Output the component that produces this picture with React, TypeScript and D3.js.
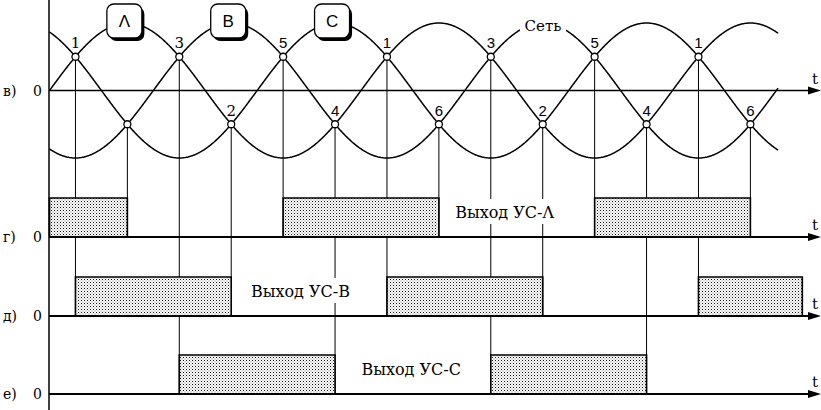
import React from "react";
import * as d3 from "d3";

// фазы сети: сдвиг в градусах и угол, где стоит метка фазы
const phaseNames = ["Λ", "B", "C"];
const phaseShifts = [0, -120, 120];
const phasePeaks = [90, 210, 330];

// точки пересечения фаз (градусы) и их номера
const upperNodes = [30, 150, 270, 390, 510, 630, 750];
const upperLabels = ["1", "3", "5", "1", "3", "5", "1"];
const lowerNodes = [90, 210, 330, 450, 570, 690, 810];
const lowerLabels = ["", "2", "4", "6", "2", "4", "6"];

// выходы УС: интервалы включения (градусы)
const channelLetters = ["г)", "д)", "е)"];
const outputLabels = ["Выход УС-Λ", "Выход УС-В", "Выход УС-С"];
const outputLabelAt = [526, 290, 418];
const pulsesA = [[0, 90], [270, 450], [630, 810]];
const pulsesB = [[30, 210], [390, 570], [750, 870]];
const pulsesC = [[150, 330], [510, 690]];
const channelPulses = [pulsesA, pulsesB, pulsesC];

const W = 821;
const H = 410;
const serif = '"DejaVu Serif", serif';
const sans = '"Liberation Sans", Arial, "DejaVu Sans", sans-serif';

export default function App() {
  const x = d3.scaleLinear().domain([0, 720]).range([49.5, 49.5 + 720 * 0.8653]);
  const y = d3.scaleLinear().domain([-1, 1]).range([158, 23]);
  const zeroY = y(0);
  const chZero = [237, 316, 394];
  const chHigh = [198, 277, 355];

  const thetas = d3.range(0, 843, 1);
  const line = d3.line<number>().x((t) => x(t));

  const sinPath = (shift: number) =>
    line.y((t) => y(Math.sin(((t + shift) * Math.PI) / 180)))(thetas) || "";

  // вертикаль от узла опускается до канала, у которого в этот момент фронт
  const dropTo = (a: number) => {
    let bottom = 0;
    channelPulses.forEach((ps, i) => {
      ps.forEach(([s, e]) => {
        if (s === a || e === a) bottom = Math.max(bottom, chZero[i]);
      });
    });
    return bottom;
  };

  const arrow = (yy: number) => (
    <polygon points={`808,${yy - 4} 821,${yy} 808,${yy + 4}`} fill="#000" />
  );

  const nodeFont = (a: number) => (x(a) < 260 ? serif : sans);
  const txt = (family: string, size: number) => ({ fontFamily: family, fontSize: size });

  return (
    <svg width={W} height={H} style={{ position: "absolute", left: 0, top: 0, background: "#fff" }}>
      <defs>
        <pattern id="dots" width="3" height="3" patternUnits="userSpaceOnUse">
          <rect width="3" height="3" fill="#fff" />
          <rect x="0" y="0" width="1" height="1" fill="#111" />
          <rect x="1.5" y="1.5" width="1" height="1" fill="#777" />
        </pattern>
      </defs>

      {/* оси */}
      <line x1={49} x2={49} y1={0} y2={H} stroke="#000" strokeWidth={1.5} />
      <line x1={49} x2={810} y1={zeroY} y2={zeroY} stroke="#000" strokeWidth={1.3} />
      {arrow(zeroY)}
      <text x={812} y={zeroY - 7} style={txt(serif, 15)}>t</text>
      <text x={3} y={zeroY + 5} style={txt(serif, 14)}>в)</text>
      <text x={33} y={zeroY + 5} style={txt(serif, 14)}>0</text>

      {/* синусоиды сети */}
      {phaseShifts.map((s, i) => (
        <path key={"s" + i} d={sinPath(s)} fill="none" stroke="#000" strokeWidth={1.5} />
      ))}

      {/* вертикали от узлов */}
      {upperNodes.map((a, i) => (
        <line key={"vu" + i} x1={x(a)} x2={x(a)} y1={y(0.5)} y2={dropTo(a)} stroke="#000" strokeWidth={1} />
      ))}
      {lowerNodes.map((a, i) => (
        <line key={"vl" + i} x1={x(a)} x2={x(a)} y1={y(-0.5)} y2={dropTo(a)} stroke="#000" strokeWidth={1} />
      ))}

      {/* выходы УС */}
      {channelPulses.map((ps, i) => (
        <g key={"ch" + i}>
          {ps.map(([s, e], j) => {
            const x0 = Math.max(x(s), 49);
            const x1 = x(e);
            return (
              <g key={j}>
                <rect x={x0} y={chHigh[i]} width={x1 - x0} height={chZero[i] - chHigh[i]} fill="url(#dots)" />
                <path
                  d={`M${x0},${chZero[i]}V${chHigh[i]}H${x1}V${chZero[i]}`}
                  fill="none"
                  stroke="#000"
                  strokeWidth={1.6}
                />
              </g>
            );
          })}
          <line x1={49} x2={810} y1={chZero[i]} y2={chZero[i]} stroke="#000" strokeWidth={1.8} />
          {arrow(chZero[i])}
          <text x={812} y={chZero[i] - 7} style={txt(serif, 15)}>t</text>
          <text x={3} y={chZero[i] + 5} style={txt(serif, 14)}>{channelLetters[i]}</text>
          <text x={33} y={chZero[i] + 5} style={txt(serif, 14)}>0</text>
          <rect x={x(outputLabelAt[i]) - 60} y={chHigh[i] + 1} width={120} height={25} fill="#fff" />
          <text x={x(outputLabelAt[i])} y={chHigh[i] + 20} textAnchor="middle" style={txt(serif, 16)}>
            {outputLabels[i]}
          </text>
        </g>
      ))}

      {/* метки фаз */}
      {phasePeaks.map((a, i) => {
        const cx = x(a);
        return (
          <g key={"b" + i}>
            <rect x={cx - 18} y={7} width={35} height={34} rx={7} fill="#000" />
            <rect x={cx - 20.5} y={4} width={35} height={34} rx={7} fill="#fff" stroke="#000" strokeWidth={1.3} />
            <text x={cx - 3} y={27} textAnchor="middle" style={txt(sans, 17)}>
              {phaseNames[i]}
            </text>
          </g>
        );
      })}

      {/* подпись сети */}
      <rect x={520} y={15} width={46} height={19} fill="#fff" />
      <text x={543} y={31} textAnchor="middle" style={txt(serif, 15)}>Сеть</text>

      {/* узлы */}
      {upperNodes.map((a, i) => (
        <g key={"nu" + i}>
          <circle cx={x(a)} cy={y(0.5)} r={3.5} fill="#fff" stroke="#000" strokeWidth={1.3} />
          <text x={x(a)} y={y(0.5) - 9} textAnchor="middle" style={txt(nodeFont(a), 15)}>
            {upperLabels[i]}
          </text>
        </g>
      ))}
      {lowerNodes.map((a, i) => (
        <g key={"nl" + i}>
          <circle cx={x(a)} cy={y(-0.5)} r={3.5} fill="#fff" stroke="#000" strokeWidth={1.3} />
          <text x={x(a)} y={y(-0.5) - 8} textAnchor="middle" style={txt(nodeFont(a), 15)}>
            {lowerLabels[i]}
          </text>
        </g>
      ))}
    </svg>
  );
}
